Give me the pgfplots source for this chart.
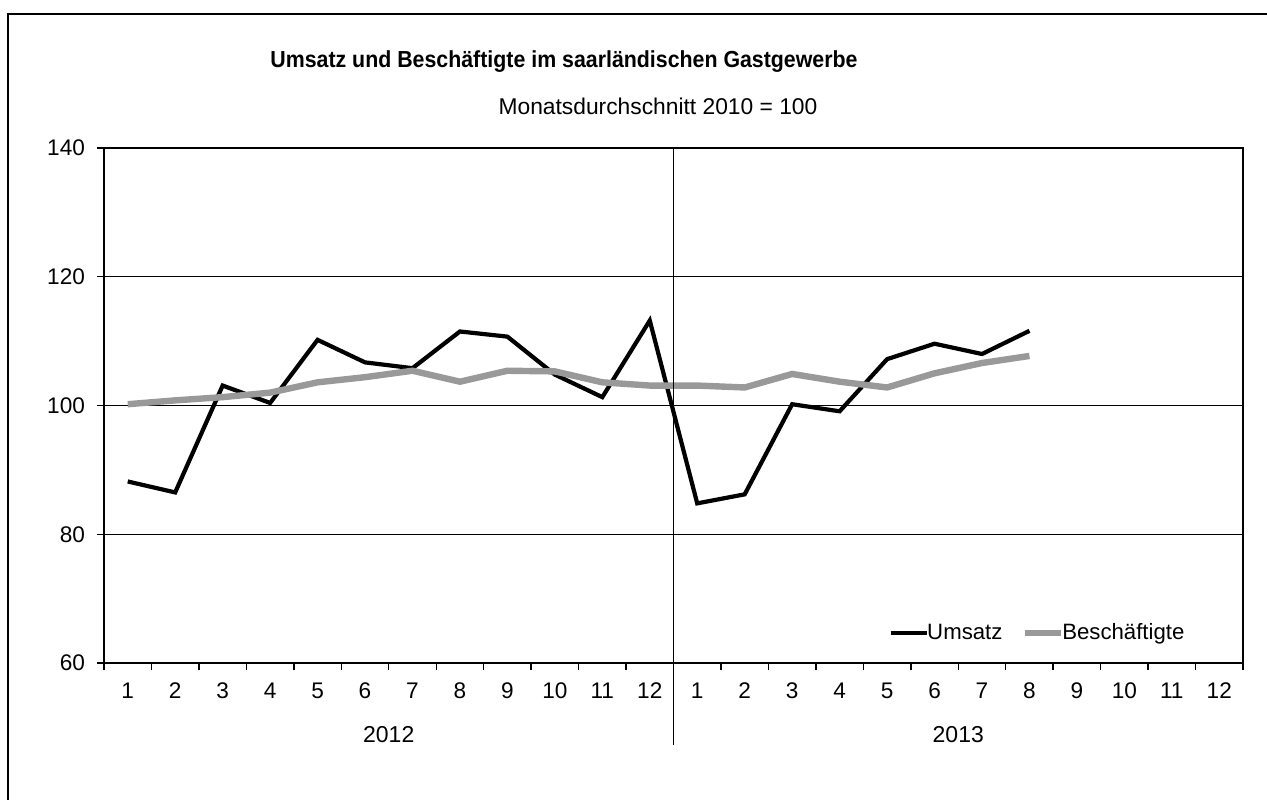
\documentclass[border=0pt]{standalone}
\usepackage{pgfplots}
\pgfplotsset{compat=1.18}
\usepackage{pgfplotstable}
\usepackage{fontspec}
\setmainfont{Liberation Sans}
\definecolor{besch}{HTML}{999999}
\pgfplotstableread{
x u b
1 88.2 100.2
2 86.5 100.8
3 103.1 101.3
4 100.4 102.0
5 110.2 103.6
6 106.7 104.4
7 105.8 105.4
8 111.5 103.7
9 110.7 105.4
10 104.8 105.3
11 101.3 103.6
12 113.2 103.1
13 84.8 103.1
14 86.2 102.8
15 100.2 104.9
16 99.1 103.7
17 107.2 102.8
18 109.6 105.0
19 108.0 106.6
20 111.6 107.7
}\data
\begin{document}
\begin{tikzpicture}
\useasboundingbox (0,0) rectangle (633.5pt,399.5pt);
\draw[line width=1pt] (4pt,-20pt) -- (4pt,392.5pt) -- (660pt,392.5pt);
\node[font=\bfseries\fontsize{11.6}{13}\selectfont, xscale=0.92] at (282pt,368.5pt) {Umsatz und Beschäftigte im saarländischen Gastgewerbe};
\node[font=\fontsize{11.4}{13}\selectfont] at (329pt,346.5pt) {Monatsdurchschnitt 2010 = 100};
\begin{axis}[
  at={(52pt,68pt)}, anchor=south west,
  scale only axis, width=569.5pt, height=257.5pt,
  xmin=0.5, xmax=24.5, ymin=60, ymax=140,
  clip=false,
  axis line style={line width=1pt},
  xtick={1,...,24},
  xticklabels={1,2,3,4,5,6,7,8,9,10,11,12,1,2,3,4,5,6,7,8,9,10,11,12},
  major x tick style={draw=none},
  minor xtick={0.5,1.5,...,24.5},
  minor x tick style={line width=0.7pt, black},
  minor tick length=3.5pt,
  ytick={60,80,...,140},
  major y tick style={line width=0.7pt, black},
  major tick length=3.5pt,
  tick align=outside,
  xtick pos=bottom, ytick pos=left,
  ymajorgrids,
  grid style={line width=0.7pt, black},
  /pgf/number format/assume math mode=true,
  tick label style={font=\fontsize{11.3}{13}\selectfont},
  xticklabel style={yshift=-3pt},
  yticklabel style={xshift=-2.5pt},
  legend columns=2,
  legend style={draw=none, fill=none, at={(0.8205,0.058)}, anchor=center,
    font=\fontsize{11.1}{13}\selectfont,
    /tikz/every even column/.append style={column sep=7.5pt},
    inner sep=0pt},
  legend image code/.code={\draw[#1] (0pt,0pt) -- (18pt,0pt);},
]
\addplot[black, line width=2.1pt] table[x=x,y=u] {\data};
\addlegendentry{\hspace{-2.8pt}Umsatz}
\addplot[besch, line width=3.2pt] table[x=x,y=b] {\data};
\addlegendentry{\hspace{-2.8pt}Beschäftigte}
\draw[line width=0.6pt] (axis cs:12.5,140) -- (axis cs:12.5,60) -- ++(0pt,-41pt);
\node[font=\fontsize{11.5}{13}\selectfont] at (axis cs:6.5,60) [yshift=-36pt] {2012};
\node[font=\fontsize{11.5}{13}\selectfont] at (axis cs:18.5,60) [yshift=-36pt] {2013};
\end{axis}
\end{tikzpicture}
\end{document}
